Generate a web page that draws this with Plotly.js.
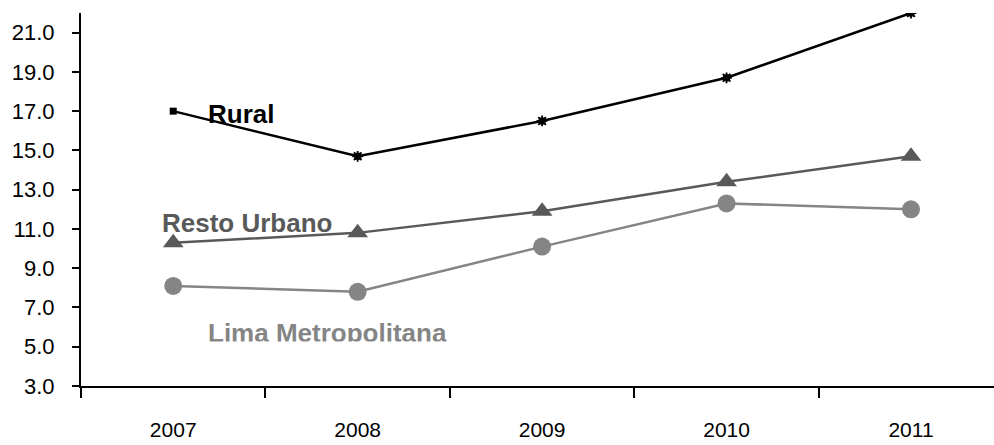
<!DOCTYPE html>
<html>
<head>
<meta charset="utf-8">
<script src="https://cdn.plot.ly/plotly-3.0.1.min.js"></script>
<style>
  html, body { margin: 0; padding: 0; background: #fff; }
  #chart { width: 994px; height: 445px; }
</style>
</head>
<body>
<div id="chart"></div>
<script>
const years = ['2007', '2008', '2009', '2010', '2011'];
const rural = [17.0, 14.7, 16.5, 18.7, 22.0];
const restoUrbano = [10.3, 10.8, 11.9, 13.4, 14.7];
const limaMetropolitana = [8.1, 7.8, 10.1, 12.3, 12.0];
const yTickVals = [3, 5, 7, 9, 11, 13, 15, 17, 19, 21];
const seriesNames = ['Rural', 'Resto Urbano', 'Lima Metropolitana'];

const sans = 'Liberation Sans, Arial, sans-serif';

const traces = [
  {
    x: years, y: limaMetropolitana, type: 'scatter', mode: 'lines+markers', name: seriesNames[2],
    line: { color: '#858585', width: 2.5 },
    marker: { symbol: 'circle', size: 18, color: '#858585' }
  },
  {
    x: years, y: restoUrbano, type: 'scatter', mode: 'lines+markers', name: seriesNames[1],
    line: { color: '#595959', width: 2.5 },
    marker: { symbol: 'triangle-up', size: 18, color: '#595959' }
  },
  {
    x: years, y: rural, type: 'scatter', mode: 'lines+markers', name: seriesNames[0],
    line: { color: '#000000', width: 2.5 },
    marker: { symbol: 'square', size: 7, color: '#000000' }
  },
  {
    x: years.slice(1), y: rural.slice(1), type: 'scatter', mode: 'markers', name: seriesNames[0],
    marker: { symbol: 'asterisk-open', size: 9, color: '#000000', line: { color: '#000000', width: 1.8 } }
  }
];

const layout = {
  width: 994, height: 445,
  margin: { l: 81, r: 0, t: 13, b: 59 },
  paper_bgcolor: '#ffffff', plot_bgcolor: '#ffffff',
  showlegend: false,
  xaxis: {
    type: 'category',
    range: [-0.5, 4.45],
    tickson: 'boundaries',
    ticks: 'outside', ticklen: 10, tickwidth: 2, tickcolor: '#000',
    showline: true, linecolor: '#000', linewidth: 2,
    showgrid: false, zeroline: false,
    ticklabelstandoff: 24,
    tickfont: { family: sans, size: 21, color: '#000' }
  },
  yaxis: {
    range: [3, 22],
    tickvals: yTickVals,
    ticktext: yTickVals.map(v => v.toFixed(1)),
    ticks: 'outside', ticklen: 7, tickwidth: 2, tickcolor: '#000',
    showline: true, linecolor: '#000', linewidth: 2,
    showgrid: false, zeroline: false,
    ticklabelstandoff: 13,
    tickfont: { family: sans, size: 22, color: '#000' }
  },
  annotations: [
    { xref: 'paper', yref: 'paper', x: 0.175, y: 0.729, xanchor: 'center', yanchor: 'middle',
      text: '<b>Rural</b>', showarrow: false,
      font: { family: sans, size: 26, color: '#000000' } },
    { xref: 'paper', yref: 'paper', x: 0.182, y: 0.437, xanchor: 'center', yanchor: 'middle',
      text: '<b>Resto Urbano</b>', showarrow: false,
      font: { family: sans, size: 26, color: '#595959' } },
    { xref: 'paper', yref: 'paper', x: 0.270, y: 0.142, xanchor: 'center', yanchor: 'middle',
      text: '<b>Lima Metropolitana</b>', showarrow: false,
      font: { family: sans, size: 26, color: '#858585' } },
    { xref: 'paper', yref: 'paper', x: 0.270, y: 0.102, xanchor: 'center', yanchor: 'middle',
      text: ' ', showarrow: false, width: 270, height: 11, bgcolor: '#ffffff', borderpad: 0,
      font: { family: sans, size: 8, color: '#ffffff' } }
  ]
};

Plotly.newPlot('chart', traces, layout, { displayModeBar: false, staticPlot: true });
</script>
</body>
</html>
